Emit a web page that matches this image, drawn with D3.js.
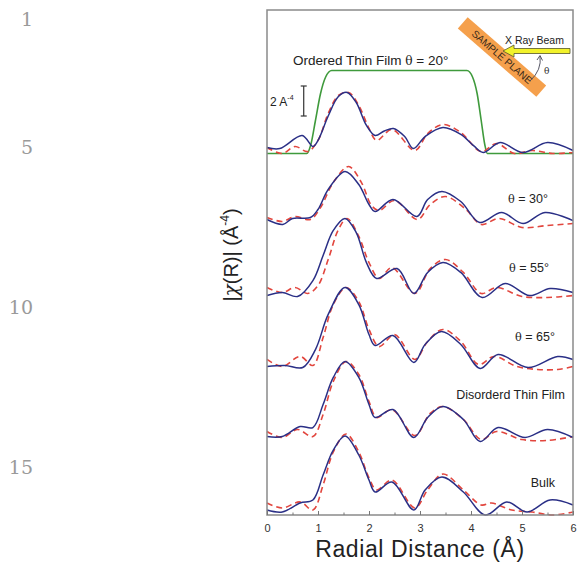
<!DOCTYPE html>
<html>
<head>
<meta charset="utf-8">
<script src="https://cdn.jsdelivr.net/npm/d3@7"></script>
<style>
  body { margin: 0; background: #fff; }
  svg { display: block; }
</style>
</head>
<body>
<script>
// |chi(R)| in A^-4 above each trace's own baseline
const radii = [0, 1, 2, 3, 4, 5, 6];
const traceNames = ["θ = 20°", "θ = 30°", "θ = 55°", "θ = 65°", "Disorderd Thin Film", "Bulk"];
const traceOffsets = [24.1, 19.3, 14.5, 9.7, 4.9, 0];

const dataBlue = [
  [[0,0.4],[0.25,0.33],[0.69,1.2],[0.9,0.47],[1.0,0.87],[1.2,2.5],[1.4,3.8],[1.57,4.07],[1.75,3.4],[1.95,1.87],[2.12,1.2],[2.3,1.5],[2.48,1.67],[2.7,1.13],[2.87,0.33],[3.1,1.13],[3.45,1.73],[3.8,1.27],[4.05,0.53],[4.24,0.07],[4.57,0.73],[5.02,0.07],[5.5,0.73],[6,0.2]],
  [[0,0.4],[0.31,0.07],[0.5,0.47],[0.85,0.53],[1.0,1.07],[1.2,2.4],[1.53,3.6],[1.8,2.73],[2.0,1.4],[2.12,0.93],[2.47,1.73],[2.94,0.6],[3.15,1.73],[3.43,2.27],[3.8,1.6],[4.17,0.2],[4.6,0.87],[5.02,0.13],[5.45,0.87],[6,0.33]],
  [[0,0.13],[0.3,0.33],[0.6,0.07],[0.9,1.13],[1.1,2.8],[1.3,4.47],[1.53,5.27],[1.75,4.33],[1.95,2.33],[2.15,1.27],[2.55,1.93],[2.88,0.27],[3.15,1.67],[3.45,2.33],[3.8,1.67],[4.22,0],[4.67,0.93],[5.15,0.13],[5.55,0.6],[6,0.33]],
  [[0,0.2],[0.35,0.27],[0.7,0.13],[0.95,1.33],[1.2,3.67],[1.53,5.47],[1.8,4.33],[2.0,2.33],[2.12,1.6],[2.47,2.27],[2.88,0.47],[3.1,1.67],[3.42,2.53],[3.8,1.67],[4.18,0.07],[4.53,1.0],[5.12,0.13],[5.7,0.87],[6,0.67]],
  [[0,0.33],[0.3,0.33],[0.65,1.0],[0.9,0.93],[1.1,2.47],[1.3,4.27],[1.53,5.33],[1.8,4.27],[2.0,2.47],[2.12,1.6],[2.47,2.13],[2.88,0.27],[3.15,1.6],[3.45,2.33],[3.85,1.47],[4.18,0],[4.53,0.93],[5.06,0.27],[5.5,0.8],[6,0.27]],
  [[0,0.33],[0.3,0.2],[0.65,0.8],[0.9,1.0],[1.1,2.67],[1.3,4.33],[1.53,5.27],[1.8,4.0],[2.0,2.33],[2.12,1.53],[2.45,2.2],[2.88,0.33],[3.1,1.67],[3.43,2.53],[3.85,1.53],[4.28,0],[4.7,0.87],[5.1,0.2],[5.55,1.0],[6,0.67]]
];

const dataRed = [
  [[0,0.4],[0.3,0],[0.55,0.47],[0.8,0.13],[1.0,0.87],[1.2,2.67],[1.4,3.87],[1.6,4.07],[1.8,3.2],[2.0,1.67],[2.15,0.87],[2.45,1.6],[2.9,0.2],[3.15,1.33],[3.45,1.93],[3.8,1.4],[4.2,0.13],[4.5,0.67],[4.85,0],[5.2,0.2],[5.6,0],[6,0.07]],
  [[0,0.53],[0.3,0.27],[0.55,0.6],[0.85,0.4],[1.05,1.2],[1.3,2.87],[1.6,3.93],[1.85,2.87],[2.05,1.33],[2.2,1.0],[2.5,1.67],[2.95,0.4],[3.2,1.4],[3.5,1.93],[3.9,1.07],[4.2,0.07],[4.55,0.47],[5.0,-0.13],[5.5,0],[6,0.13]],
  [[0,0.67],[0.3,0.33],[0.55,0.67],[0.8,0.27],[1.0,0.8],[1.2,2.53],[1.4,4.53],[1.57,5.27],[1.8,4.07],[2.0,2.33],[2.2,1.27],[2.45,2.0],[2.9,0.27],[3.2,1.93],[3.5,2.53],[3.85,1.67],[4.2,0.27],[4.5,0.67],[5.0,0.07],[5.5,0],[6,0.13]],
  [[0,0.67],[0.3,0.2],[0.65,0.87],[0.9,0.27],[1.1,2.13],[1.3,4.33],[1.55,5.47],[1.8,4.53],[2.0,2.67],[2.2,1.53],[2.5,2.33],[2.9,0.67],[3.15,1.87],[3.45,2.67],[3.8,1.87],[4.15,0.33],[4.45,0.87],[4.9,0.2],[5.3,0],[5.7,0],[6,0.2]],
  [[0,0.67],[0.3,0.27],[0.6,0.8],[0.9,0.33],[1.1,1.8],[1.3,4.0],[1.55,5.33],[1.8,4.47],[2.0,2.67],[2.15,1.6],[2.45,2.13],[2.9,0.4],[3.2,1.87],[3.45,2.33],[3.85,1.47],[4.2,0.13],[4.5,0.67],[5.0,0.13],[5.5,0.07],[6,0.33]],
  [[0,0.8],[0.3,0.47],[0.65,0.87],[0.9,0.33],[1.1,2.0],[1.3,4.2],[1.55,5.4],[1.8,4.2],[2.0,2.47],[2.15,1.67],[2.45,2.33],[2.9,0.47],[3.15,1.67],[3.45,2.73],[3.85,1.67],[4.2,0.67],[4.4,0.8],[4.8,0.33],[5.2,0.2],[5.6,0],[6,0.2]]
];

// FT window drawn over the 20 deg trace
const windowData = [[0,0],[0.78,0],[0.86,0.6],[0.95,2.2],[1.05,4.0],[1.15,5.1],[1.27,5.53],[3.92,5.53],[4.03,5.1],[4.12,4.0],[4.2,2.2],[4.27,0.6],[4.32,0],[6,0]];

const W = 577, H = 562;
const m = { left: 267, top: 10, right: 4, bottom: 47 };
const iw = W - m.left - m.right, ih = H - m.top - m.bottom;

const svg = d3.select("body").append("svg")
  .attr("width", W).attr("height", H)
  .style("font-family", "Liberation Sans, Arial, sans-serif");

// line numbers from the page the figure came from
[[1, 26], [5, 154], [10, 314], [15, 474]].forEach(([n, yy]) => {
  svg.append("text").text(n)
    .attr("x", 33).attr("y", yy)
    .attr("text-anchor", "end")
    .attr("font-family", "DejaVu Serif, Liberation Serif, serif")
    .attr("font-size", 19)
    .attr("fill", "#9a9a9a");
});

const x = d3.scaleLinear().domain([0, 6]).range([0, iw]);
const y = d3.scaleLinear().domain([0, ih / 15]).range([ih, 0]);

const g = svg.append("g").attr("transform", `translate(${m.left},${m.top})`);

const line = (off) => d3.line()
  .x(d => x(d[0]))
  .y(d => y(d[1] + off))
  .curve(d3.curveCatmullRom.alpha(0.5));

// window
g.append("path")
  .attr("d", d3.line().x(d => x(d[0])).y(d => y(d[1] + traceOffsets[0])).curve(d3.curveMonotoneX)(windowData))
  .attr("fill", "none").attr("stroke", "#3f9a3c").attr("stroke-width", 1.6);

traceOffsets.forEach((off, i) => {
  g.append("path")
    .attr("d", line(off)(dataRed[i]))
    .attr("fill", "none").attr("stroke", "#e2463e")
    .attr("stroke-width", 1.6).attr("stroke-dasharray", "6,4");
  g.append("path")
    .attr("d", line(off)(dataBlue[i]))
    .attr("fill", "none").attr("stroke", "#2a2f86")
    .attr("stroke-width", 1.5);
});

// frame
g.append("rect")
  .attr("width", iw).attr("height", ih)
  .attr("fill", "none").attr("stroke", "#8a8a8a").attr("stroke-width", 1.5);

// x axis, ticks pointing into the plot
const xAxis = g.append("g").attr("transform", `translate(0,${ih})`)
  .call(d3.axisBottom(x).tickValues(radii).tickFormat(d3.format("d")).tickSizeInner(-4).tickSizeOuter(0).tickPadding(9));
xAxis.select(".domain").remove();
xAxis.selectAll("line").attr("stroke", "#777");
xAxis.selectAll("text").attr("font-size", 11).attr("fill", "#333")
  .attr("font-family", "Liberation Sans, Arial, sans-serif");

g.append("g").attr("transform", `translate(0,${ih})`)
  .call(d3.axisBottom(x).tickValues(d3.range(0.5, 6, 1)).tickFormat("").tickSizeInner(-2.5).tickSizeOuter(0))
  .call(a => a.select(".domain").remove())
  .selectAll("line").attr("stroke", "#777");

// axis titles
svg.append("text")
  .attr("x", 420).attr("y", 557)
  .attr("text-anchor", "middle").attr("font-size", 23).attr("letter-spacing", 0.6).attr("fill", "#222")
  .text("Radial Distance (Å)");

const yl = svg.append("text")
  .attr("transform", "translate(238,255) rotate(-90)")
  .attr("text-anchor", "middle").attr("font-size", 20).attr("fill", "#222");
yl.append("tspan").text("|");
yl.append("tspan").attr("font-family", "DejaVu Serif, serif").attr("font-style", "italic").text("χ");
yl.append("tspan").text("(R)| (Å");
yl.append("tspan").attr("font-size", 12).attr("dy", -9).text("-4");
yl.append("tspan").attr("dy", 9).text(")");

// trace labels
const theta = (sel, rest) => {
  sel.append("tspan").attr("font-family", "DejaVu Serif, serif").attr("font-size", "0.9em").text("θ");
  sel.append("tspan").text(rest);
};
const t0 = svg.append("text").attr("x", 293).attr("y", 65).attr("font-size", 13.5).attr("fill", "#222");
t0.append("tspan").text("Ordered Thin Film ");
theta(t0, " = 20°");

[[203, " = 30°", 548], [272, " = 55°", 549], [341, " = 65°", 555]].forEach(([yy, s, xr]) => {
  const t = svg.append("text").attr("x", xr).attr("y", yy).attr("text-anchor", "end")
    .attr("font-size", 12.5).attr("fill", "#222");
  theta(t, s);
});
svg.append("text").attr("x", 565).attr("y", 399).attr("text-anchor", "end")
  .attr("font-size", 12.5).attr("fill", "#222").text(traceNames[4]);
svg.append("text").attr("x", 555).attr("y", 487).attr("text-anchor", "end")
  .attr("font-size", 12.5).attr("fill", "#222").text(traceNames[5]);

// 2 A^-4 scale bar
const sb0 = 26.6, sb1 = sb0 + 2;
const sbx = x(0.72);
g.append("line").attr("x1", sbx).attr("x2", sbx).attr("y1", y(sb0)).attr("y2", y(sb1))
  .attr("stroke", "#333").attr("stroke-width", 1.2);
[sb0, sb1].forEach(v => g.append("line")
  .attr("x1", sbx - 3).attr("x2", sbx + 3).attr("y1", y(v)).attr("y2", y(v))
  .attr("stroke", "#333").attr("stroke-width", 1.2));
const sbt = svg.append("text").attr("x", 270).attr("y", 106).attr("font-size", 12).attr("fill", "#222");
sbt.append("tspan").text("2 A");
sbt.append("tspan").attr("font-size", 7).attr("dy", -6).text("-4");

// inset: sample plane and x ray beam
const inset = svg.append("g");
const plane = inset.append("g").attr("transform", "translate(502,57) rotate(41)");
plane.append("rect").attr("x", -52).attr("y", -7.5).attr("width", 104).attr("height", 15)
  .attr("fill", "#f5a04c");
plane.append("text").attr("x", 0).attr("y", 3.5).attr("text-anchor", "middle")
  .attr("font-size", 10).attr("fill", "#3a2a1a").text("SAMPLE PLANE");

inset.append("path")
  .attr("d", "M570,48.5 L514,48.5 L514,45 L503,51 L514,57 L514,53.5 L570,53.5 Z")
  .attr("fill", "#f2f22a").attr("stroke", "#55552a").attr("stroke-width", 0.8);
inset.append("text").attr("x", 505).attr("y", 44).attr("font-size", 10.5).attr("fill", "#222")
  .text("X Ray Beam");
inset.append("path").attr("d", "M530,81 Q542,70 540,56")
  .attr("fill", "none").attr("stroke", "#445").attr("stroke-width", 0.9);
inset.append("path").attr("d", "M537,60 L540,55.5 L542.5,60.5")
  .attr("fill", "none").attr("stroke", "#445").attr("stroke-width", 0.9);
inset.append("text").attr("x", 544).attr("y", 74).attr("font-size", 9)
  .attr("font-family", "DejaVu Serif, serif").attr("fill", "#333").text("θ");
</script>
</body>
</html>
